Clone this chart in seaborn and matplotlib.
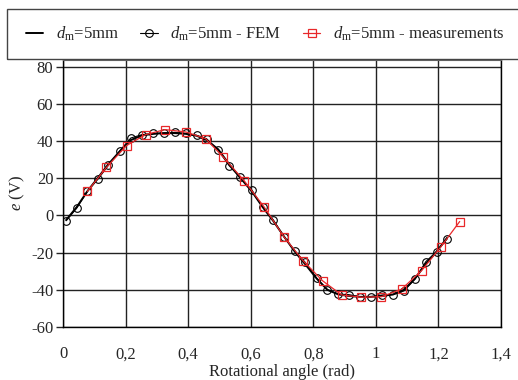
import numpy as np
import matplotlib
matplotlib.use("Agg")
import matplotlib.pyplot as plt
from matplotlib.patches import Rectangle
import seaborn as sns

# FEM results (also used for the analytical curve x positions)
angle_fem = [0.010, 0.044, 0.078, 0.113, 0.145, 0.182, 0.217, 0.253, 0.289, 0.324,
             0.358, 0.393, 0.427, 0.459, 0.496, 0.531, 0.565, 0.603, 0.638, 0.672,
             0.707, 0.741, 0.773, 0.811, 0.845, 0.880, 0.913, 0.949, 0.983, 1.021,
             1.055, 1.090, 1.125, 1.160, 1.194, 1.228]
emf_fem = [-2.9, 3.9, 12.9, 19.7, 26.9, 34.8, 41.6, 43.4, 44.0, 44.3,
           44.6, 44.0, 43.0, 41.2, 35.0, 26.7, 20.6, 13.8, 4.5, -2.4,
           -11.7, -19.1, -25.0, -33.8, -40.0, -42.3, -42.6, -43.7, -43.7, -42.8,
           -42.6, -40.6, -34.3, -24.8, -19.5, -12.6]
emf_analytic = [-2.5, 4.5, 13.0, 20.5, 27.5, 34.5, 40.5, 43.0, 43.8, 44.2,
                44.2, 43.8, 42.8, 40.5, 35.5, 27.5, 20.5, 13.0, 4.5, -3.0,
                -11.5, -19.5, -26.0, -34.0, -40.0, -42.5, -43.3, -43.8, -43.8, -43.3,
                -42.5, -40.0, -34.0, -26.0, -19.5, -12.0]

# measurements
angle_meas = [0.078, 0.139, 0.203, 0.264, 0.326, 0.393, 0.456, 0.513, 0.579, 0.643,
              0.707, 0.768, 0.830, 0.891, 0.954, 1.018, 1.082, 1.146, 1.207, 1.268]
emf_meas = [12.9, 25.8, 37.5, 43.4, 46.1, 44.8, 41.2, 31.2, 18.6, 4.5,
            -11.7, -24.5, -35.2, -42.8, -44.0, -43.7, -39.7, -29.7, -17.1, -3.3]

x_ticks = [0, 0.2, 0.4, 0.6, 0.8, 1.0, 1.2, 1.4]
x_tick_labels = ["0", "0,2", "0,4", "0,6", "0,8", "1", "1,2", "1,4"]
y_ticks = [-60, -40, -20, 0, 20, 40, 60, 80]

sns.set_style("white")
plt.rcParams["font.family"] = ["Liberation Serif", "DejaVu Serif"]
plt.rcParams["mathtext.fontset"] = "custom"
plt.rcParams["mathtext.rm"] = "Liberation Serif"
plt.rcParams["mathtext.it"] = "Liberation Serif:italic"
plt.rcParams["axes.unicode_minus"] = False
plt.rcParams["font.size"] = 12

fig = plt.figure(figsize=(5.18, 3.8), dpi=100)
ax = fig.add_axes([63 / 518, 1 - 327 / 380, (501 - 63) / 518, (327 - 60) / 380])

red = "#e8282a"
lbl = r"$d_{\mathrm{m}}$=5mm"

sns.lineplot(x=angle_fem, y=emf_analytic, ax=ax, color="black", lw=1.4,
             estimator=None, sort=False, label=lbl, zorder=3)
sns.lineplot(x=angle_fem, y=emf_fem, ax=ax, color="black", lw=0.8,
             marker="o", markersize=5.5, markerfacecolor="none",
             markeredgecolor="black", markeredgewidth=0.8,
             estimator=None, sort=False, label=lbl + " - FEM", zorder=4)
sns.lineplot(x=angle_meas, y=emf_meas, ax=ax, color=red, lw=0.9,
             marker="s", markersize=6, markerfacecolor="none",
             markeredgecolor=red, markeredgewidth=0.9,
             estimator=None, sort=False, label=lbl + " - measurements", zorder=5)

ax.set_xlim(0, 1.4)
ax.set_ylim(-60, 83.5)
ax.set_xticks(x_ticks)
ax.set_xticklabels(x_tick_labels)
ax.set_yticks(y_ticks)
ax.tick_params(axis="x", length=0, pad=14, labelsize=12)
ax.tick_params(axis="y", length=5, width=1, direction="out", left=True,
               pad=2, labelsize=12)
ax.grid(True, color="#222222", lw=1.0)
ax.set_axisbelow(True)
for side in ["left", "bottom", "right"]:
    ax.spines[side].set_color("black")
    ax.spines[side].set_linewidth(1.0)
ax.spines["top"].set_color("#666666")

ax.set_xlabel("Rotational angle (rad)", fontsize=12, labelpad=1)
ax.set_ylabel(r"$e$ (V)", fontsize=12, labelpad=3)

# legend on top, framed box running off the right edge
handles, labels = ax.get_legend_handles_labels()
ax.get_legend().remove()
fig.legend(handles, labels, loc="center left", ncol=3, frameon=False,
           bbox_to_anchor=(19 / 518, 1 - 34 / 380), handlelength=1.05,
           handletextpad=0.75, columnspacing=1.3, fontsize=12, borderaxespad=0)
fig.patches.append(Rectangle((7 / 518, 1 - 59 / 380), 1.2, 50 / 380,
                             transform=fig.transFigure, fill=False,
                             edgecolor="#444444", lw=1.0))

fig.savefig("out.png", dpi=100)
